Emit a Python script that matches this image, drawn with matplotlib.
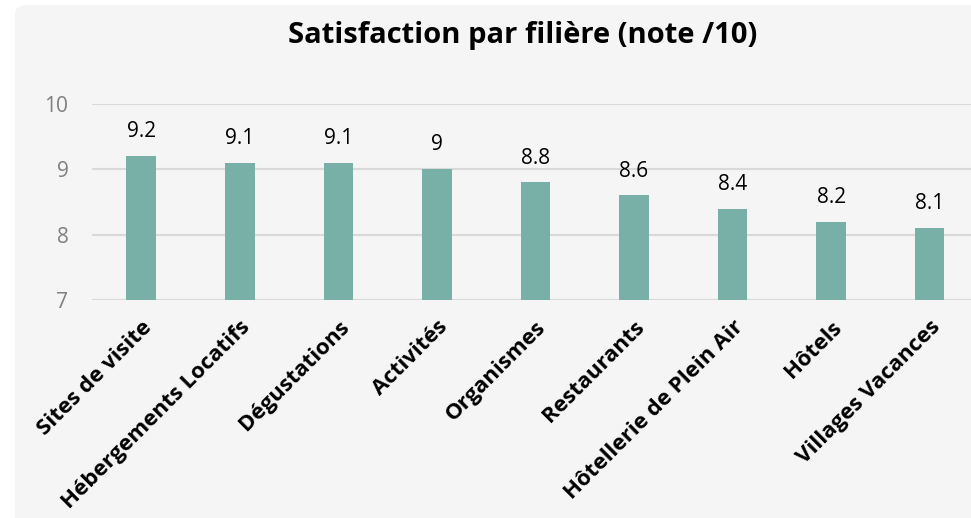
import matplotlib
matplotlib.use("Agg")
import matplotlib.pyplot as plt
from matplotlib.patches import FancyBboxPatch

# data
categories = ["Sites de visite", "Hébergements Locatifs", "Dégustations", "Activités",
              "Organismes", "Restaurants", "Hôtellerie de Plein Air", "Hôtels",
              "Villages Vacances"]
scores = [9.2, 9.1, 9.1, 9.0, 8.8, 8.6, 8.4, 8.2, 8.1]
score_labels = ["9.2", "9.1", "9.1", "9", "8.8", "8.6", "8.4", "8.2", "8.1"]
yticks = [7, 8, 9, 10]

plt.rcParams['font.family'] = ['Open Sans', 'DejaVu Sans']

W, H = 971, 518
fig = plt.figure(figsize=(W / 100, H / 100), dpi=100)
fig.patch.set_facecolor("white")

# rounded light gray chart area
bg = FancyBboxPatch((15 / W, -0.05), 1.0, 1 - 5 / H + 0.05,
                    boxstyle="round,pad=0,rounding_size=0.015",
                    transform=fig.transFigure, facecolor="#f5f5f5",
                    edgecolor="none", zorder=-10)
fig.patches.append(bg)

ax = fig.add_axes([92 / W, 1 - 300 / H, (W - 92) / W, (300 - 104) / H])
ax.set_facecolor("none")

x = range(len(categories))
bars = ax.bar(x, [s - 7 for s in scores], bottom=7, width=0.30, color="#78b0a8", zorder=3)

for xi, s, lab in zip(x, scores, score_labels):
    ax.annotate(lab, (xi, s), xytext=(0, 10), textcoords="offset points",
                ha="center", va="bottom", fontsize=15, color="black")

ax.set_ylim(7, 10)
ax.set_xlim(-0.5, 8.42)
ax.set_yticks(yticks)
ax.yaxis.grid(True, color="#d9d9d9", linewidth=1.5, zorder=0)
ax.set_axisbelow(True)
for sp in ax.spines.values():
    sp.set_visible(False)
ax.tick_params(axis="y", length=0, pad=17, labelsize=15, labelcolor="#7f7f7f")
ax.tick_params(axis="x", length=0, pad=12)
ax.set_xticks(list(x))
ax.set_xticklabels(categories, rotation=45, ha="right", rotation_mode="anchor",
                   fontsize=16, fontweight="bold")

fig.text(0.538, 1 - 35 / H, "Satisfaction par filière (note /10)", ha="center", va="center",
         fontsize=21, fontweight="bold")

fig.savefig("out.png", dpi=100)
